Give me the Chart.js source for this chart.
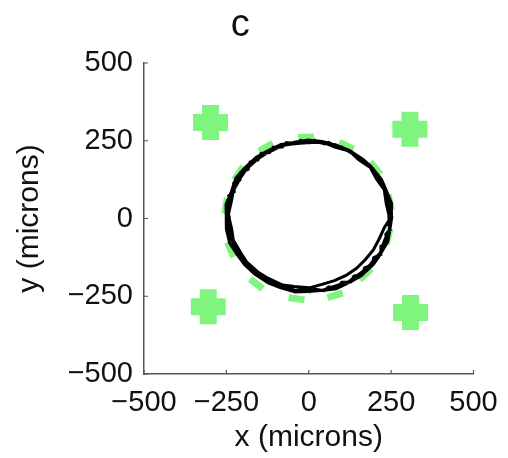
<!DOCTYPE html>
<html>
<head>
<meta charset="utf-8">
<script src="https://cdn.jsdelivr.net/npm/chart.js@4/dist/chart.umd.min.js"></script>
<style>
html,body{margin:0;padding:0;background:#fff;}
#wrap{width:508px;height:458px;}
</style>
</head>
<body>
<div id="wrap"><canvas id="c" width="508" height="458"></canvas></div>
<script>
// ---- data ----
const titleText = "c";
const xLabel = "x (microns)";
const yLabel = "y (microns)";
const tickValues = [-500, -250, 0, 250, 500];

// electrode / pillar crosses at the corners
const crossX = [-298, 307, -305, 309];
const crossY = [309, 287, -284, -302];

// small green marks around the ring
const ringX = [-8, -130, -212, -251, -237, -159, -37, 80, 172, 241, 246, 202, 114];
const ringY = [261, 229, 146, 41, -100, -210, -258, -247, -179, -58, 52, 162, 234];

// trajectory, four laps
const lapAX = [248,241,234,212,191,156,126,81,45,-2,-41,-87,-121,-161,-187,-217,-230,-246,-245,-246,-230,-216,-186,-162,-121,-87,-40,3,40,86,121,161,186,217,230,245];
const lapAY = [6,52,88,131,160,195,214,237,242,250,246,232,219,190,165,126,93,48,10,-31,-77,-109,-149,-173,-203,-216,-231,-230,-231,-215,-203,-173,-149,-110,-71,-36];
const lapBX = [243,235,229,206,187,152,123,79,44,3,-45,-80,-124,-152,-188,-207,-229,-235,-244,-234,-229,-206,-188,-152,-124,-79,-44,2,40,78,113,145,172,196,214,230];
const lapBY = [12,49,93,126,164,189,217,230,245,244,240,235,212,194,160,131,89,54,12,-33,-69,-111,-140,-174,-192,-214,-219,-223,-212,-200,-183,-160,-132,-101,-65,-28];
const lapCX = [250,251,235,221,190,165,123,89,41,-3,-47,-84,-129,-160,-196,-221,-235,-251,-249,-251,-240,-216,-195,-165,-123,-89,-41,-3,47,83,129,159,196,215,240,246];
const lapCY = [4,50,91,125,166,190,219,233,248,252,244,238,215,196,161,130,86,46,8,-34,-79,-118,-148,-178,-207,-221,-236,-235,-231,-226,-202,-184,-148,-119,-74,-38];
const lapDX = [252,240,247,233,236,218,218,197,193,170,162,137,127,100,88,60,47,17,4,-25,-39,-68,-80,-108,-119,-145,-154,-178,-184,-206,-209,-228,-226,-243,-237,-250,-241,-250,-237,-243,-226,-228,-208,-206,-184,-178,-154,-145,-119,-108,-80,-68,-39,-25,4,17,47,60,88,100,127,137,162,170,193,197,218,219,236,234,247,241,252];
const lapDY = [5,33,47,73,87,114,125,150,159,183,188,209,212,230,230,245,240,252,244,251,240,244,230,229,212,209,188,182,158,149,124,113,86,73,46,32,5,-10,-37,-51,-77,-90,-115,-127,-150,-158,-180,-185,-204,-205,-222,-220,-232,-227,-236,-227,-232,-220,-222,-205,-204,-185,-180,-158,-150,-126,-115,-89,-77,-50,-37,-10,5];

// ---- helpers ----
const zip = (xs, ys) => xs.map((x, i) => ({x: x, y: ys[i]}));
const trajectory = zip(lapAX, lapAY)
  .concat(zip(lapBX, lapBY), zip(lapCX, lapCY), zip(lapDX, lapDY));

const FONT = "'Liberation Sans', Arial, Helvetica, sans-serif";
const green = '#7ff57f';

const inwardTicks = {
  id: 'inwardTicks',
  afterDatasetsDraw(chart) {
    const {ctx, scales: {x, y}} = chart;
    ctx.save();
    ctx.strokeStyle = '#555';
    ctx.lineWidth = 1.2;
    ctx.beginPath();
    tickValues.forEach(v => {
      const px = x.getPixelForValue(v);
      ctx.moveTo(px, y.bottom);
      ctx.lineTo(px, y.bottom - 4);
      const py = y.getPixelForValue(v);
      ctx.moveTo(x.left, py);
      ctx.lineTo(x.left + 4, py);
    });
    ctx.stroke();
    ctx.restore();
  }
};

const fmt = v => (v < 0 ? '\u2212' + Math.abs(v) : String(v));

new Chart(document.getElementById('c'), {
  type: 'scatter',
  data: {
    datasets: [
      {
        label: 'trajectory',
        data: trajectory,
        showLine: true,
        borderColor: '#000',
        borderWidth: 3,
        pointRadius: 0,
        tension: 0,
        fill: false
      },
      {
        label: 'ring marks',
        data: zip(ringX, ringY),
        pointStyle: 'line',
        pointRadius: 8,
        borderWidth: 7,
        borderColor: green,
        backgroundColor: green,
        rotation: c => {
          const p = c.raw;
          if (!p) return 0;
          return 90 - Math.atan2(p.y, p.x) * 180 / Math.PI;
        }
      },
      {
        label: 'crosses',
        data: zip(crossX, crossY),
        pointStyle: 'cross',
        pointRadius: 17.5,
        borderWidth: 17,
        borderColor: green,
        backgroundColor: green
      }
    ]
  },
  options: {
    responsive: false,
    animation: false,
    events: [],
    layout: {padding: {left: 0, right: 27.5, top: 0, bottom: 0}},
    plugins: {
      legend: {display: false},
      tooltip: {enabled: false},
      title: {
        display: true,
        text: titleText,
        color: '#111',
        font: {family: FONT, size: 38, weight: 'normal', lineHeight: 1.2},
        padding: {top: 3, bottom: 14.4}
      }
    },
    scales: {
      x: {
        type: 'linear',
        min: -500, max: 500,
        afterBuildTicks: s => { s.ticks = tickValues.map(v => ({value: v})); },
        afterFit: s => { s.height = 84; s.paddingLeft = 0; s.paddingRight = 0; },
        grid: {display: true, drawOnChartArea: false, drawTicks: false},
        border: {display: true, color: '#555', width: 1.5},
        ticks: {
          color: '#111', padding: 12, maxRotation: 0, autoSkip: false,
          font: {family: FONT, size: 29},
          callback: fmt
        },
        title: {
          display: true, text: xLabel, color: '#111',
          font: {family: FONT, size: 30, lineHeight: 1.2},
          padding: {top: 0, bottom: 2}
        }
      },
      y: {
        type: 'linear',
        min: -500, max: 500,
        afterBuildTicks: s => { s.ticks = tickValues.map(v => ({value: v})); },
        afterFit: s => { s.width = 144; s.paddingTop = 0; s.paddingBottom = 0; },
        grid: {display: true, drawOnChartArea: false, drawTicks: false},
        border: {display: true, color: '#555', width: 1.5},
        ticks: {
          color: '#111', padding: 11, autoSkip: false,
          font: {family: FONT, size: 29},
          callback: fmt
        },
        title: {
          display: true, text: yLabel, color: '#111',
          font: {family: FONT, size: 30, lineHeight: 1.2},
          padding: {top: 12, bottom: 0}
        }
      }
    }
  },
  plugins: [inwardTicks]
});
</script>
</body>
</html>
